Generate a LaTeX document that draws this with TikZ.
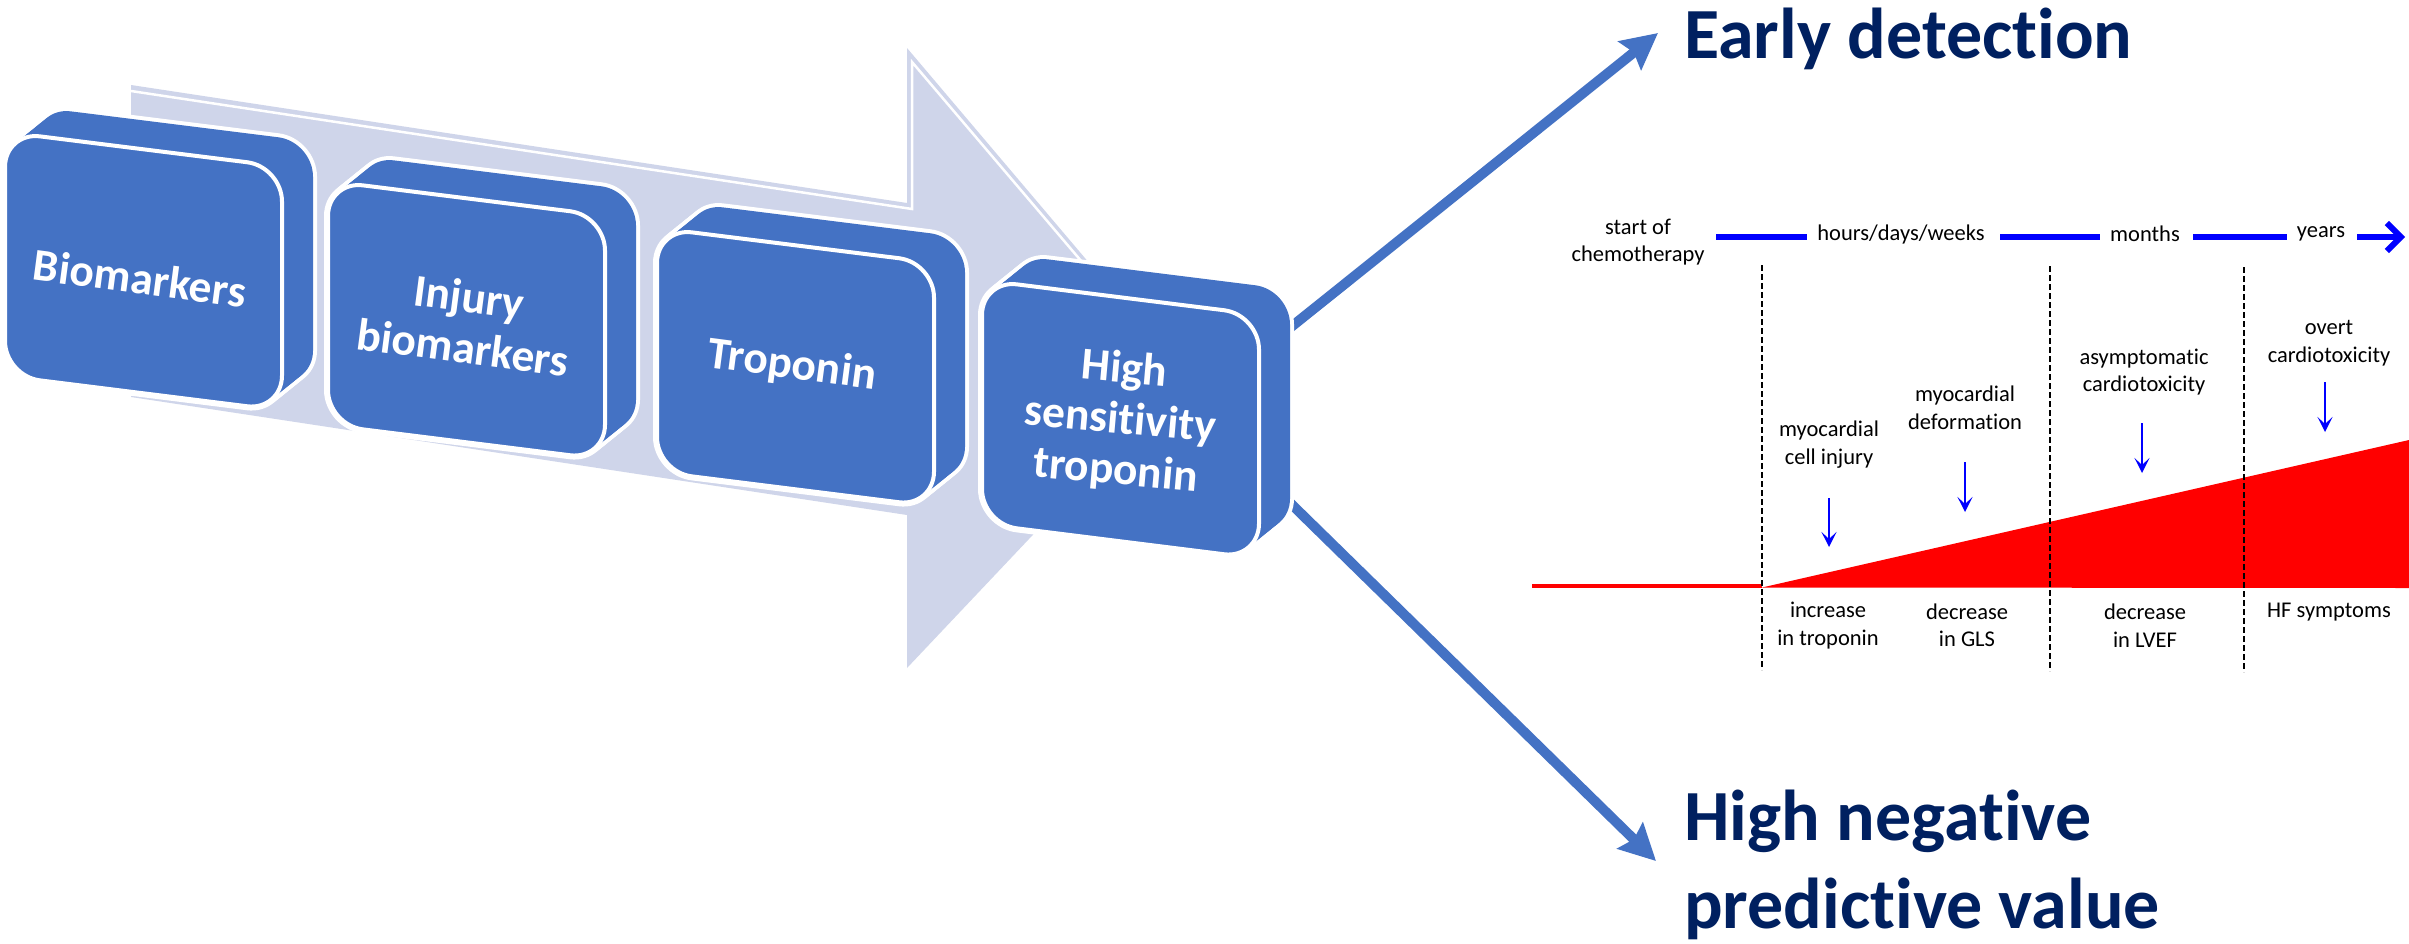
\documentclass[tikz,border=0pt]{standalone}
\usepackage{fontspec}
\setmainfont{Carlito}[Ligatures=NoCommon]
\usetikzlibrary{arrows.meta}
\definecolor{boxblue}{HTML}{4472C4}
\definecolor{palearrow}{HTML}{CFD5EA}
\definecolor{navy}{HTML}{002060}
\definecolor{tlblue}{HTML}{0000FF}
\definecolor{tlred}{HTML}{FF0000}
\tikzset{
  boxtext/.style={text=white, font=\bfseries\fontsize{45.5}{51}\selectfont, align=center, inner sep=0pt},
  ttl/.style={text=navy, font=\bfseries\fontsize{72}{88}\selectfont, align=left, inner sep=0pt},
  tltext/.style={text=black, font=\fontsize{22.5}{27.5}\selectfont, align=center, inner sep=0pt},
  bigarrow/.style={boxblue, line width=10pt, -{Stealth[length=36pt,width=36pt,inset=5pt]}},
  tlseg/.style={tlblue, line width=6pt},
  smallarr/.style={tlblue, line width=2.5pt, -{Stealth[length=15pt,width=15pt,inset=7pt]}},
  vdash/.style={black, line width=1.3pt, dash pattern=on 6pt off 3pt},
}
\newcommand{\tdbox}[2]{%
  \foreach \st in {0,...,10}{\draw[white, line width=8pt, rounded corners=35pt] ({#1+3.1*\st},{#2-2.5*\st}) -- ++(277,34.6) -- ++(0,244) -- ++(-277,-34.6) -- cycle;}
  \foreach \st in {0,...,10}{\fill[boxblue, rounded corners=35pt] ({#1+3.1*\st},{#2-2.5*\st}) -- ++(277,34.6) -- ++(0,244) -- ++(-277,-34.6) -- cycle;}
  \draw[fill=boxblue, draw=white, line width=4pt, rounded corners=35pt] (#1,#2) -- ++(277,34.6) -- ++(0,244) -- ++(-277,-34.6) -- cycle;
}
\begin{document}
\begin{tikzpicture}[x=1pt,y=-1pt]
\useasboundingbox (0,0) rectangle (2409,943);
\fill[white] (0,0) rectangle (2409,943);

% pale process arrow
\fill[palearrow] (131,85) -- (907,203) -- (907,48) -- (1184,375) -- (907,668) -- (907,515) -- (131,397) -- cycle;
\draw[white, line width=2.5pt] (131,91) -- (912,209) -- (912,62) -- (1150,342);

% arrows to the conclusions
\coordinate (u0) at (1281,335);
\coordinate (u1) at (1658,33);
\coordinate (l0) at (1281,494);
\coordinate (l1) at (1656,861);
\draw[bigarrow] (u0) -- (u1);
\draw[bigarrow] (l0) -- (l1);

% 3D boxes
\tdbox{5}{132}
\tdbox{328}{181}
\tdbox{657}{228}
\tdbox{982}{280}

\node[boxtext, rotate=-7.5] (bio) at (140,278) {Biomarkers};
\node[boxtext, rotate=-7.5] (inj) at (466,322) {Injury\\biomarkers};
\node[boxtext, rotate=-7.5] (trop) at (792,366) {Troponin};
\node[boxtext, rotate=-5] (hs) at (1120,421) {High\\sensitivity\\troponin};

% titles
\node[ttl, anchor=base west] (early) at (1684,58) {Early detection};
\node[ttl, anchor=base west] (npv) at (1684,928) {High negative\\predictive value};

% timeline
\node[tltext] (start) at (1638,242) {start of\\chemotherapy};
\node[tltext] (hdw) at (1901,234) {hours/days/weeks};
\node[tltext] (months) at (2145,234) {months};
\node[tltext] (years) at (2321,234) {years};
\coordinate (s1a) at (1716,237); \coordinate (s1b) at (1807,237);
\coordinate (s2a) at (2000,237); \coordinate (s2b) at (2100,237);
\coordinate (s3a) at (2193,237); \coordinate (s3b) at (2287,237);
\coordinate (s4a) at (2357,237); \coordinate (s4b) at (2405,237);
\draw[tlseg] (s1a) -- (s1b);
\draw[tlseg] (s2a) -- (s2b);
\draw[tlseg] (s3a) -- (s3b);
\draw[tlseg, -{Straight Barb[length=14pt,width=28pt]}] (s4a) -- (s4b);

% red curve
\coordinate (r0) at (1532,586);
\coordinate (r1) at (1762,586);
\draw[tlred, line width=4.5pt] (r0) -- (r1);
\fill[tlred] (1762,587.5) -- (2409,440) -- (2409,588) -- cycle;

% dashed separators
\coordinate (d1t) at (1762,265); \coordinate (d1b) at (1762,670);
\coordinate (d2t) at (2050,266); \coordinate (d2b) at (2050,671);
\coordinate (d3t) at (2244,267); \coordinate (d3b) at (2244,672);
\draw[vdash] (d1t) -- (d1b);
\draw[vdash] (d2t) -- (d2b);
\draw[vdash] (d3t) -- (d3b);

% labels above with arrows
\node[tltext] (cell) at (1829,444.5) {myocardial\\cell injury};
\node[tltext] (deform) at (1965,408) {myocardial\\deformation};
\node[tltext] (asym) at (2144,372) {asymptomatic\\cardiotoxicity};
\node[tltext] (overt) at (2329,343) {overt\\cardiotoxicity};
\coordinate (a1t) at (1829,498); \coordinate (a1b) at (1829,547);
\coordinate (a2t) at (1965,462); \coordinate (a2b) at (1965,512);
\coordinate (a3t) at (2142,423); \coordinate (a3b) at (2142,473);
\coordinate (a4t) at (2325,382); \coordinate (a4b) at (2325,432);
\draw[smallarr] (a1t) -- (a1b);
\draw[smallarr] (a2t) -- (a2b);
\draw[smallarr] (a3t) -- (a3b);
\draw[smallarr] (a4t) -- (a4b);

% labels below
\node[tltext] (trinc) at (1828,625.5) {increase\\in troponin};
\node[tltext] (gls) at (1967,625.5) {decrease\\in GLS};
\node[tltext] (lvef) at (2145,625.5) {decrease\\in LVEF};
\node[tltext] (hf) at (2329,612) {HF symptoms};
\end{tikzpicture}
\end{document}
